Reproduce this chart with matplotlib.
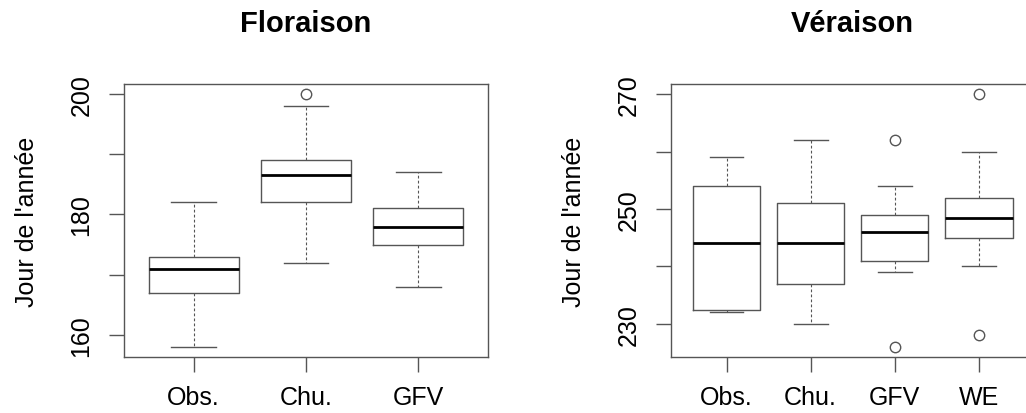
import matplotlib.pyplot as plt

plt.rcParams['font.family'] = ['Liberation Sans', 'DejaVu Sans']

# Floraison
flo_labels = ["Obs.", "Chu.", "GFV"]
flo_whislo = [158, 172, 168]
flo_q1 = [167, 182, 175]
flo_med = [171, 186.5, 178]
flo_q3 = [173, 189, 181]
flo_whishi = [182, 198, 187]
flo_fliers = [[], [200], []]

# Véraison
ver_labels = ["Obs.", "Chu.", "GFV", "WE"]
ver_whislo = [232, 230, 239, 240]
ver_q1 = [232.5, 237, 241, 245]
ver_med = [244, 244, 246, 248.5]
ver_q3 = [254, 251, 249, 252]
ver_whishi = [259, 262, 254, 260]
ver_fliers = [[], [], [262, 226], [270, 228]]

EDGE = "#555555"


def stats_list(labels, lo, q1, med, q3, hi, fl):
    return [dict(label=l, whislo=a, q1=b, med=c, q3=d, whishi=e, fliers=f)
            for l, a, b, c, d, e, f in zip(labels, lo, q1, med, q3, hi, fl)]


def draw(ax, stats, title, yticks, ylabels, ylim):
    n = len(stats)
    ax.bxp(stats, positions=range(1, n + 1), widths=0.8, capwidths=0.4,
           boxprops=dict(color=EDGE, linewidth=1),
           medianprops=dict(color="black", linewidth=2),
           whiskerprops=dict(color=EDGE, linewidth=0.8, linestyle=(0, (2.5, 2))),
           capprops=dict(color=EDGE, linewidth=1),
           flierprops=dict(marker="o", markerfacecolor="none",
                           markeredgecolor=EDGE, markersize=7.5, markeredgewidth=1))
    ext = 0.04 * n
    ax.set_xlim(0.5 - ext, n + 0.5 + ext)
    ax.set_ylim(*ylim)
    ax.set_yticks(yticks)
    ax.set_yticklabels(ylabels, rotation=90, va="center")
    ax.set_ylabel("Jour de l'année", fontsize=18, labelpad=22)
    ax.set_title(title, fontsize=21, fontweight="bold", pad=38)
    for s in ax.spines.values():
        s.set_color(EDGE)
        s.set_linewidth(1)
    ax.tick_params(axis="both", length=11, width=1, color=EDGE, labelsize=18)
    ax.tick_params(axis="x", pad=9)
    ax.tick_params(axis="y", pad=11)


fig = plt.figure(figsize=(10.26, 4.14), dpi=100)
ax1 = fig.add_axes([0.1209, 0.1353, 0.3547, 0.6594])
ax2 = fig.add_axes([0.654, 0.1353, 0.3543, 0.6594])

draw(ax1, stats_list(flo_labels, flo_whislo, flo_q1, flo_med, flo_q3, flo_whishi, flo_fliers),
     "Floraison", [160, 170, 180, 190, 200], ["160", "", "180", "", "200"], (156.32, 201.68))
draw(ax2, stats_list(ver_labels, ver_whislo, ver_q1, ver_med, ver_q3, ver_whishi, ver_fliers),
     "Véraison", [230, 240, 250, 260, 270], ["230", "", "250", "", "270"], (224.24, 271.76))

fig.savefig("out.png", dpi=100)
